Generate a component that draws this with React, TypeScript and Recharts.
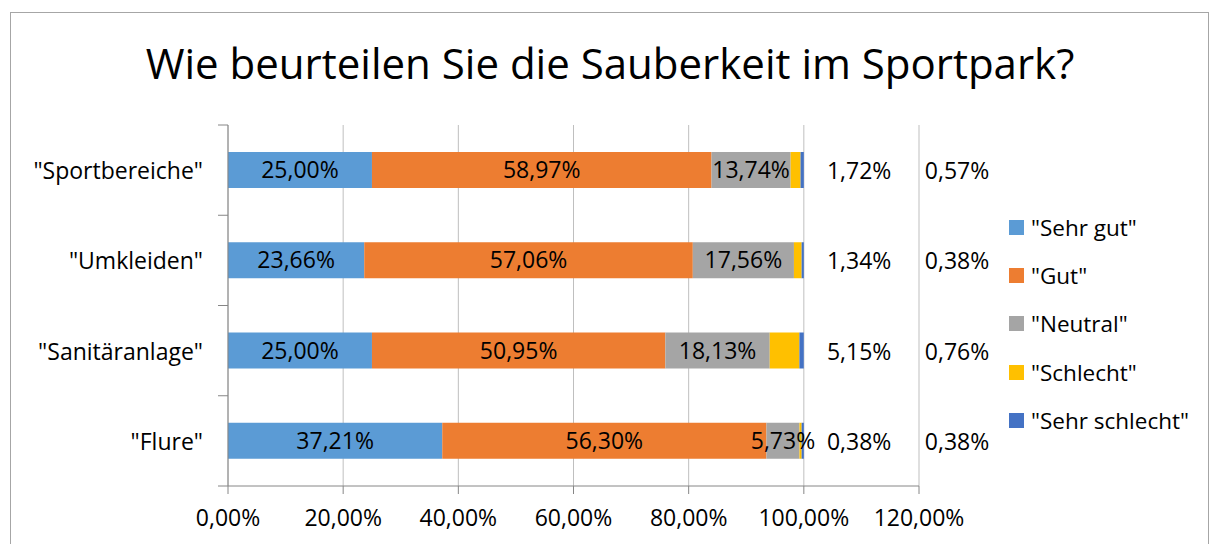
import React from "react";
import { BarChart, Bar, XAxis, YAxis, CartesianGrid, LabelList } from "recharts";

const categories = ['"Sportbereiche"', '"Umkleiden"', '"Sanitäranlage"', '"Flure"'];
const sehrGut = [25.0, 23.66, 25.0, 37.21];
const gut = [58.97, 57.06, 50.95, 56.3];
const neutral = [13.74, 17.56, 18.13, 5.73];
const schlecht = [1.72, 1.34, 5.15, 0.38];
const sehrSchlecht = [0.57, 0.38, 0.76, 0.38];
const xTicks = [0, 20, 40, 60, 80, 100, 120];

const series = [
    { key: "sehrGut", name: '"Sehr gut"', color: "#5B9BD5", values: sehrGut },
    { key: "gut", name: '"Gut"', color: "#ED7D31", values: gut },
    { key: "neutral", name: '"Neutral"', color: "#A5A5A5", values: neutral },
    { key: "schlecht", name: '"Schlecht"', color: "#FFC000", values: schlecht },
    { key: "sehrSchlecht", name: '"Sehr schlecht"', color: "#4472C4", values: sehrSchlecht }
];

// outside labels for the two small segments sit at fixed axis positions (in % units)
const outsideLabelAt: Record<string, number> = { schlecht: 109.6, sehrSchlecht: 126.6 };

const data = categories.map((cat, i) => {
    const row: any = { cat };
    series.forEach(s => (row[s.key] = s.values[i]));
    return row;
});

const FONT = "'Open Sans', sans-serif";
const FS = 23;
const W = 1216;
const H = 544;
const PLOT_LEFT = 228;
const PLOT_RIGHT = 919;
const PLOT_TOP = 125;
const PLOT_BOTTOM = 486;
const AXIS_COLOR = "#868686";

const fmt = (v: number) => v.toFixed(2).replace(".", ",") + "%";

const band = (PLOT_BOTTOM - PLOT_TOP) / categories.length;

function CategoryTick(props: any) {
    const { y, payload, index } = props;
    const last = index === categories.length - 1;
    return (
        <g>
            <line x1={PLOT_LEFT - 10} x2={PLOT_LEFT} y1={y - band / 2} y2={y - band / 2} stroke={AXIS_COLOR} />
            {last && <line x1={PLOT_LEFT - 10} x2={PLOT_LEFT} y1={y + band / 2} y2={y + band / 2} stroke={AXIS_COLOR} />}
            <text x={203} y={y} textAnchor="end" dominantBaseline="central" fontSize={FS} fontFamily={FONT} fill="#000">
                {payload.value}
            </text>
        </g>
    );
}

function outsideLabel(key: string) {
    return (props: any) => {
        const { y, height, value } = props;
        const px = PLOT_LEFT + (outsideLabelAt[key] / 120) * (PLOT_RIGHT - PLOT_LEFT);
        return (
            <text x={px} y={y + height / 2} textAnchor="middle" dominantBaseline="central" fontSize={FS} fontFamily={FONT} fill="#000">
                {fmt(value)}
            </text>
        );
    };
}

export default function App() {
    return (
        <div style={{ position: "fixed", left: 0, top: 0, width: W, height: H, background: "#fff", overflow: "hidden" }}>
            <div style={{ position: "absolute", left: 10, top: 12, width: 1197, height: 560, border: "1px solid #a6a6a6" }} />
            <div
                style={{
                    position: "absolute",
                    left: 0,
                    width: 1220,
                    top: 42,
                    lineHeight: "42px",
                    fontSize: 42,
                    fontFamily: FONT,
                    textAlign: "center",
                    color: "#000"
                }}
            >
                Wie beurteilen Sie die Sauberkeit im Sportpark?
            </div>
            <div style={{ position: "absolute", left: 0, top: 0 }}>
                <BarChart
                    width={W}
                    height={H}
                    data={data}
                    layout="vertical"
                    margin={{ top: PLOT_TOP, right: W - PLOT_RIGHT, left: 0, bottom: 0 }}
                    barCategoryGap={27}
                >
                    <CartesianGrid horizontal={false} stroke="#bfbfbf" />
                    <XAxis
                        type="number"
                        domain={[0, 120]}
                        ticks={xTicks}
                        tickFormatter={fmt}
                        height={H - PLOT_BOTTOM}
                        tickSize={8}
                        tickMargin={16}
                        stroke={AXIS_COLOR}
                        tick={{ fill: "#000", fontSize: FS, fontFamily: FONT }}
                    />
                    <YAxis
                        type="category"
                        dataKey="cat"
                        width={PLOT_LEFT}
                        tickLine={false}
                        stroke={AXIS_COLOR}
                        tick={<CategoryTick />}
                        interval={0}
                    />
                    {series.map(s => (
                        <Bar key={s.key} dataKey={s.key} name={s.name} stackId="a" fill={s.color} barSize={36} isAnimationActive={false}>
                            {outsideLabelAt[s.key] === undefined ? (
                                <LabelList
                                    dataKey={s.key}
                                    position="center"
                                    formatter={(v: any) => fmt(Number(v))}
                                    style={{ fill: "#000", fontSize: FS, fontFamily: FONT }}
                                />
                            ) : (
                                <LabelList dataKey={s.key} content={outsideLabel(s.key)} />
                            )}
                        </Bar>
                    ))}
                </BarChart>
            </div>
            <div style={{ position: "absolute", left: 1009, top: 203, fontFamily: FONT, fontSize: 22.5, color: "#000" }}>
                {series.map(s => (
                    <div key={s.key} style={{ display: "flex", alignItems: "center", height: 48.3 }}>
                        <span style={{ display: "inline-block", width: 15, height: 15, background: s.color, marginRight: 7 }} />
                        <span>{s.name}</span>
                    </div>
                ))}
            </div>
        </div>
    );
}
